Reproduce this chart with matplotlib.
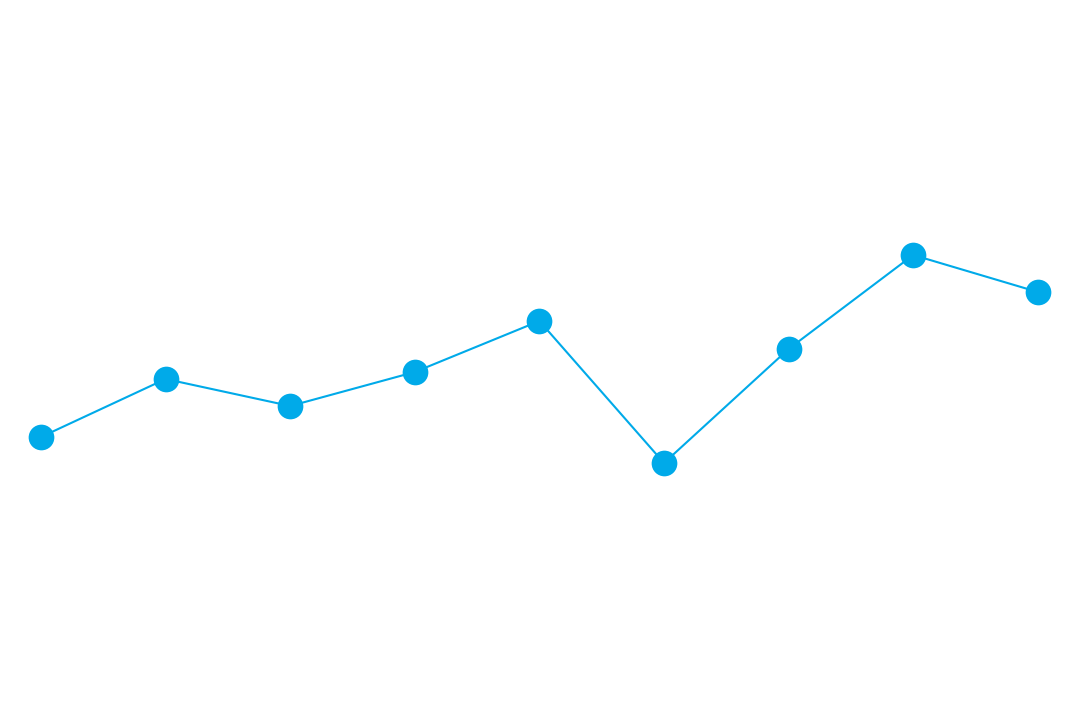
import matplotlib
matplotlib.use("Agg")
import matplotlib.pyplot as plt

# values (arbitrary units, 0..720 range)
categories = list(range(9))
values = [283, 341, 314, 348, 399, 257, 371, 465, 428]

fig = plt.figure(figsize=(10.8, 7.2), dpi=100)
ax = fig.add_axes([0, 0, 1, 1])
ax.plot(categories, values, color="#00AAE9", linewidth=1.5,
        marker="o", markersize=18.5, markeredgewidth=0)
step = 124.6
ax.set_xlim(-41 / step, (1080 - 41) / step)
ax.set_ylim(0, 720)
ax.axis("off")
fig.savefig("out.png", dpi=100, facecolor="white")
